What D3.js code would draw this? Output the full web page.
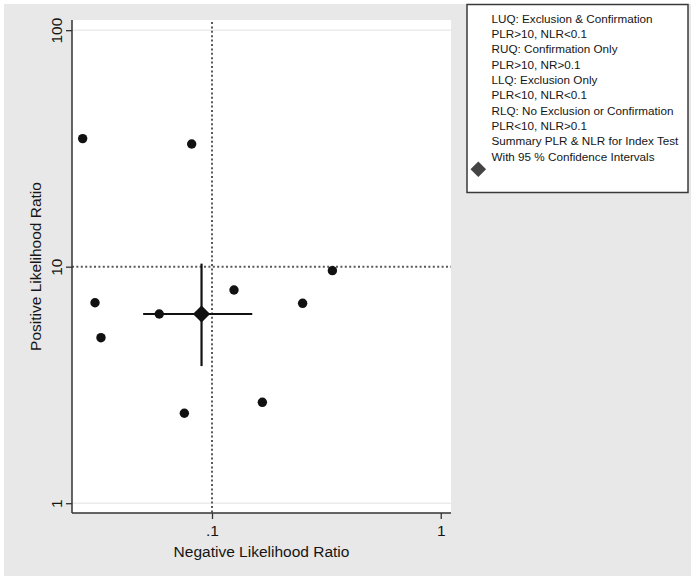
<!DOCTYPE html>
<html>
<head>
<meta charset="utf-8">
<script src="https://cdn.jsdelivr.net/npm/d3@7"></script>
<style>
  html, body { margin: 0; padding: 0; background: #ffffff; }
  svg { display: block; font-family: "Liberation Sans", Arial, Helvetica, sans-serif; }
</style>
</head>
<body>
<svg id="chart" width="691" height="578"></svg>
<script>
// Individual studies: negative and positive likelihood ratios
const studyNLR = [0.0272, 0.0815, 0.0308, 0.0327, 0.0588, 0.1248, 0.249, 0.336, 0.0757, 0.166];
const studyPLR = [34.8, 33.0, 7.04, 5.01, 6.31, 7.97, 7.00, 9.62, 2.40, 2.67];

// Pooled estimate with 95% confidence intervals
const summaryNLR = [0.090];
const summaryNLRci = [0.050, 0.150];
const summaryPLR = [6.31];
const summaryPLRci = [3.80, 10.3];

// Quadrant thresholds
const nlrThreshold = [0.1];
const plrThreshold = [10];

// Axis ticks
const xTickValues = [0.1, 1];
const xTickLabels = [".1", "1"];
const yTickValues = [1, 10, 100];
const yTickLabels = ["1", "10", "100"];

// Legend entries
const legendLines = [
  "LUQ: Exclusion & Confirmation",
  "PLR>10, NLR<0.1",
  "RUQ: Confirmation Only",
  "PLR>10, NR>0.1",
  "LLQ: Exclusion Only",
  "PLR<10, NLR<0.1",
  "RLQ: No Exclusion or Confirmation",
  "PLR<10, NLR>0.1",
  "Summary PLR & NLR for Index Test",
  "With 95 % Confidence Intervals"
];

const svg = d3.select("#chart");
const textColor = "#151515";

// Graph region background
svg.append("rect").attr("x", 4).attr("y", 4).attr("width", 687).attr("height", 572)
  .attr("fill", "#e8e8e8");

const plot = { left: 72, right: 451, top: 20, bottom: 513 };

// Plot region
svg.append("rect")
  .attr("x", plot.left).attr("y", plot.top)
  .attr("width", plot.right - plot.left).attr("height", plot.bottom - plot.top)
  .attr("fill", "#ffffff");

const x = d3.scaleLog().domain([0.02443, 1.109]).range([plot.left, plot.right]);
const y = d3.scaleLog().domain([0.909, 110.4]).range([plot.bottom, plot.top]);

// Horizontal gridlines at labelled ticks
svg.append("g").selectAll("line")
  .data(yTickValues.filter(v => !plrThreshold.includes(v)))
  .join("line")
  .attr("x1", plot.left).attr("x2", plot.right)
  .attr("y1", d => y(d)).attr("y2", d => y(d))
  .attr("stroke", "#e2e2e2").attr("stroke-width", 1);

// Threshold reference lines (dotted)
svg.append("g").selectAll("line")
  .data(nlrThreshold).join("line")
  .attr("x1", d => x(d)).attr("x2", d => x(d))
  .attr("y1", plot.top + 2).attr("y2", plot.bottom)
  .attr("stroke", "#5a5a5a").attr("stroke-width", 2)
  .attr("stroke-dasharray", "2,2.4");
svg.append("g").selectAll("line")
  .data(plrThreshold).join("line")
  .attr("x1", plot.left).attr("x2", plot.right)
  .attr("y1", d => y(d)).attr("y2", d => y(d))
  .attr("stroke", "#5a5a5a").attr("stroke-width", 2)
  .attr("stroke-dasharray", "2,2.4");

// Axes
const fs = "15.5px";
const xAxis = d3.axisBottom(x)
  .tickValues(xTickValues)
  .tickFormat((d, i) => xTickLabels[i])
  .tickSize(6).tickPadding(6).tickSizeOuter(0);
const gx = svg.append("g").attr("transform", `translate(0,${plot.bottom})`).call(xAxis);
gx.select(".domain").attr("stroke", "#333").attr("stroke-width", 1.5)
  .attr("d", `M${plot.left},0H${plot.right}`);
gx.selectAll(".tick line").attr("stroke", "#333").attr("stroke-width", 1.3);
gx.selectAll(".tick text").attr("fill", textColor).style("font-size", fs)
  .style("font-family", "'Liberation Sans', Arial, sans-serif");

const yAxis = d3.axisLeft(y)
  .tickValues(yTickValues)
  .tickFormat((d, i) => yTickLabels[i])
  .tickSize(6).tickSizeOuter(0);
const gy = svg.append("g").attr("transform", `translate(${plot.left},0)`).call(yAxis);
gy.select(".domain").attr("stroke", "#333").attr("stroke-width", 1.5)
  .attr("d", `M0,${plot.top}V${plot.bottom}`);
gy.selectAll(".tick line").attr("stroke", "#333").attr("stroke-width", 1.3);
gy.selectAll(".tick text")
  .attr("fill", textColor).style("font-size", fs)
  .style("font-family", "'Liberation Sans', Arial, sans-serif")
  .attr("text-anchor", "middle")
  .attr("transform", "rotate(-90)")
  .attr("x", 0).attr("y", -10).attr("dy", 0);

// Axis titles
svg.append("text")
  .attr("x", (plot.left + plot.right) / 2).attr("y", 556.5)
  .attr("text-anchor", "middle").attr("fill", textColor)
  .style("font-size", fs)
  .text("Negative Likelihood Ratio");
svg.append("text")
  .attr("transform", `translate(41,${(plot.top + plot.bottom) / 2}) rotate(-90)`)
  .attr("text-anchor", "middle").attr("fill", textColor)
  .style("font-size", fs)
  .text("Positive Likelihood Ratio");

// Study points
const studies = studyNLR.map((v, i) => ({ nlr: v, plr: studyPLR[i] }));
svg.append("g").selectAll("circle")
  .data(studies).join("circle")
  .attr("cx", d => x(d.nlr)).attr("cy", d => y(d.plr))
  .attr("r", 4.7).attr("fill", "#111");

// Summary point with confidence intervals
const summary = summaryNLR.map((v, i) => ({ nlr: v, plr: summaryPLR[i] }));
const sg = svg.append("g");
sg.selectAll("line.h").data(summary).join("line").attr("class", "h")
  .attr("x1", x(summaryNLRci[0])).attr("x2", x(summaryNLRci[1]))
  .attr("y1", d => y(d.plr)).attr("y2", d => y(d.plr))
  .attr("stroke", "#111").attr("stroke-width", 2.2);
sg.selectAll("line.v").data(summary).join("line").attr("class", "v")
  .attr("x1", d => x(d.nlr)).attr("x2", d => x(d.nlr))
  .attr("y1", y(summaryPLRci[1])).attr("y2", y(summaryPLRci[0]))
  .attr("stroke", "#111").attr("stroke-width", 2.2);
sg.selectAll("path").data(summary).join("path")
  .attr("transform", d => `translate(${x(d.nlr)},${y(d.plr)}) rotate(45)`)
  .attr("d", d3.symbol().type(d3.symbolSquare).size(Math.pow(8.6 * Math.SQRT2, 2)))
  .attr("fill", "#111");

// Legend
const lg = svg.append("g");
lg.append("rect").attr("x", 467).attr("y", 4.5).attr("width", 221).attr("height", 188)
  .attr("fill", "#ffffff").attr("stroke", "#3a3a3a").attr("stroke-width", 1.5);
lg.selectAll("text").data(legendLines).join("text")
  .attr("x", 491.5)
  .attr("y", (d, i) => 22.5 + i * 15.35)
  .attr("fill", textColor)
  .style("font-size", "11.7px")
  .text(d => d);
lg.append("path")
  .attr("transform", "translate(478.3,169.3) rotate(45)")
  .attr("d", d3.symbol().type(d3.symbolSquare).size(Math.pow(7.8 * Math.SQRT2, 2)))
  .attr("fill", "#444");
</script>
</body>
</html>
